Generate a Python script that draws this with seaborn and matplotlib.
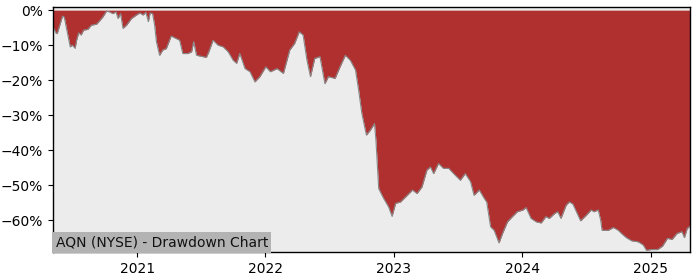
import matplotlib
matplotlib.use("Agg")
import matplotlib.pyplot as plt
import matplotlib.dates as mdates
from matplotlib.ticker import FuncFormatter
import pandas as pd
import seaborn as sns

title_text = "AQN (NYSE) - Drawdown Chart"

dates = [
    "2020-05-07", "2020-05-16", "2020-05-19", "2020-06-03", "2020-06-08", "2020-06-25",
    "2020-07-01", "2020-07-09", "2020-07-13", "2020-07-19", "2020-07-26", "2020-08-02",
    "2020-08-14", "2020-08-24", "2020-09-08", "2020-09-17", "2020-09-26", "2020-10-06",
    "2020-10-15", "2020-10-24", "2020-11-02", "2020-11-08", "2020-11-15", "2020-11-22",
    "2020-12-02", "2020-12-16", "2020-12-30",
    "2021-01-09", "2021-01-18", "2021-01-26", "2021-02-02", "2021-02-07", "2021-02-14",
    "2021-02-20", "2021-02-25", "2021-03-06", "2021-03-15", "2021-03-25", "2021-04-08",
    "2021-04-22", "2021-05-02", "2021-05-11", "2021-05-25", "2021-06-05", "2021-06-11",
    "2021-06-19", "2021-07-07", "2021-07-17", "2021-07-24", "2021-08-05", "2021-08-19",
    "2021-09-03", "2021-09-17", "2021-10-01", "2021-10-11", "2021-10-20", "2021-11-04",
    "2021-11-18", "2021-12-02", "2021-12-16",
    "2022-01-02", "2022-01-15", "2022-02-03", "2022-02-21", "2022-03-11", "2022-03-25",
    "2022-04-07", "2022-04-18", "2022-04-29", "2022-05-09", "2022-05-21", "2022-06-05",
    "2022-06-19", "2022-06-29", "2022-07-18", "2022-08-01", "2022-08-16", "2022-08-30",
    "2022-09-14", "2022-09-23", "2022-10-02", "2022-10-15", "2022-10-26", "2022-11-07",
    "2022-11-11", "2022-11-19", "2022-12-03", "2022-12-17", "2022-12-27",
    "2023-01-06", "2023-01-20", "2023-02-04", "2023-02-23", "2023-03-08", "2023-03-22",
    "2023-04-05", "2023-04-15", "2023-04-24", "2023-05-08", "2023-05-22", "2023-06-06",
    "2023-06-20", "2023-07-09", "2023-07-23", "2023-08-07", "2023-08-17", "2023-09-01",
    "2023-09-15", "2023-09-22", "2023-10-03", "2023-10-13", "2023-10-27", "2023-11-06",
    "2023-11-20", "2023-12-04", "2023-12-18",
    "2024-01-03", "2024-01-12", "2024-01-26", "2024-02-10", "2024-02-24", "2024-03-08",
    "2024-03-18", "2024-04-02", "2024-04-11", "2024-04-20", "2024-05-05", "2024-05-14",
    "2024-05-24", "2024-06-03", "2024-06-15", "2024-07-01", "2024-07-15", "2024-07-23",
    "2024-08-04", "2024-08-11", "2024-08-15", "2024-09-02", "2024-09-16", "2024-09-30",
    "2024-10-09", "2024-10-23", "2024-11-07", "2024-11-26", "2024-12-10", "2024-12-19",
    "2025-01-02", "2025-01-20", "2025-02-03", "2025-02-17", "2025-03-02", "2025-03-16",
    "2025-03-30", "2025-04-06", "2025-04-14", "2025-04-22",
]

drawdown_pct = [
    -4.8, -6.6, -6.7, -1.7, -2.0, -10.5,
    -10.0, -10.9, -8.6, -6.5, -7.1, -5.7,
    -5.5, -4.3, -4.0, -3.0, -1.9, -0.3,
    -0.5, -1.0, -0.5, -2.4, -1.0, -5.2,
    -4.3, -2.4, -1.4,
    -0.8, -1.4, -0.6, -3.3, -0.8, -1.0,
    -4.3, -9.0, -12.9, -11.4, -11.0, -7.4,
    -8.1, -8.6, -12.4, -12.4, -11.9, -9.0,
    -12.9, -13.3, -13.5, -11.9, -8.6, -10.0,
    -10.5, -11.9, -14.3, -15.2, -12.4, -16.7,
    -17.6, -20.5, -19.0,
    -16.2, -17.6, -16.7, -18.1, -11.4, -9.5,
    -6.2, -7.1, -14.3, -19.0, -13.8, -13.3,
    -21.0, -19.0, -19.5, -16.2, -12.9, -14.3,
    -17.1, -22.9, -29.5, -35.7, -34.3, -32.4,
    -37.0, -51.0, -53.8, -56.2, -58.9,
    -55.2, -54.8, -53.3, -51.4, -52.4, -50.5,
    -45.7, -44.8, -46.7, -43.8, -45.2, -45.2,
    -46.7, -48.6, -46.7, -49.0, -52.9, -51.4,
    -53.8, -54.8, -61.9, -62.9, -66.5, -63.8,
    -60.5, -59.0, -57.6,
    -57.1, -56.4, -59.5, -60.5, -60.8, -59.0,
    -59.5, -58.1, -57.6, -59.5, -55.7, -54.8,
    -55.4, -57.6, -60.2, -58.6, -57.1, -57.6,
    -57.1, -60.0, -62.9, -62.9, -62.1, -62.9,
    -63.8, -65.0, -65.9, -66.2, -67.1, -68.6,
    -68.4, -68.4, -67.4, -65.2, -65.5, -63.8,
    -63.3, -65.0, -62.4, -61.7,
]

year_ticks = ["2021-01-01", "2022-01-01", "2023-01-01", "2024-01-01", "2025-01-01"]
year_labels = ["2021", "2022", "2023", "2024", "2025"]
pct_ticks = [0, -10, -20, -30, -40, -50, -60]

df = pd.DataFrame({"date": pd.to_datetime(dates), "dd": drawdown_pct})

sns.set_style("ticks")
plt.rcParams["font.family"] = ["DejaVu Sans"]

fig = plt.figure(figsize=(7, 2.8), dpi=100)
ax = fig.add_axes([53 / 700, 1 - 252 / 280, (690 - 53) / 700, (252 - 7) / 280])
ax.set_facecolor("#ececec")

ax.fill_between(df["date"], df["dd"], 0, color="#b03030", linewidth=0)
sns.lineplot(data=df, x="date", y="dd", ax=ax, color="#888888", linewidth=0.8)

ax.set_xlim(df["date"].min(), df["date"].max())
ax.set_ylim(-69.1, 0.9)
ax.set_xticks(pd.to_datetime(year_ticks))
ax.set_xticklabels(year_labels)
ax.set_yticks(pct_ticks)
ax.yaxis.set_major_formatter(FuncFormatter(lambda v, p: f"{int(round(v))}%".replace("-", "\u2212")))
ax.set_xlabel("")
ax.set_ylabel("")
ax.tick_params(labelsize=10, length=3.5, width=0.8, colors="black")
for s in ax.spines.values():
    s.set_visible(True)
    s.set_color("black")
    s.set_linewidth(1.0)

ax.text(0.004, 0.012, title_text, transform=ax.transAxes, fontsize=10, color="#111111",
        ha="left", va="bottom",
        bbox=dict(boxstyle="square,pad=0.25", facecolor="#b3b3b3", edgecolor="none"))

fig.savefig("out.png", dpi=100)
